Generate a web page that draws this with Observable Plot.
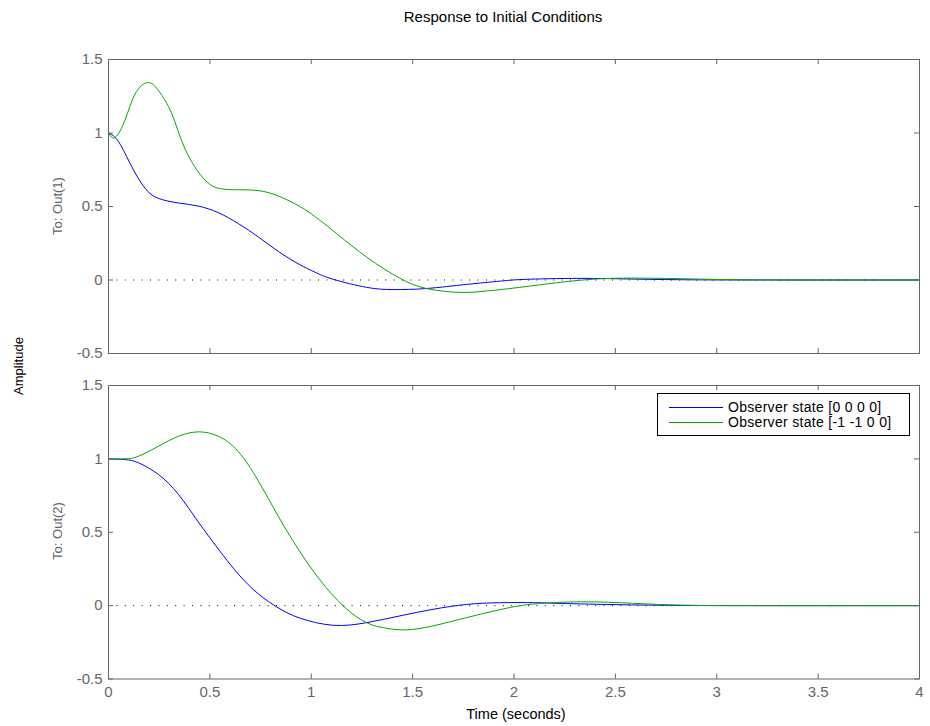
<!DOCTYPE html>
<html><head><meta charset="utf-8">
<script src="https://cdn.jsdelivr.net/npm/d3@7"></script>
<script src="https://cdn.jsdelivr.net/npm/@observablehq/plot@0.6"></script>
<style>
body{margin:0;background:#fff;font-family:"Liberation Sans",Arial,Helvetica,sans-serif;}
#wrap{position:relative;width:930px;height:726px;overflow:hidden;background:#fff}
.lbl{position:absolute;white-space:nowrap;font-size:13px;line-height:1;color:#000}
.rot{transform:translate(-50%,-50%) rotate(-90deg)}
.ctr{transform:translate(-50%,-50%)}
#legend{position:absolute;left:657px;top:393px;width:253px;height:43px;box-sizing:border-box;border:1px solid #000;background:#fff}
#legend .row{position:absolute;left:0;height:14px;width:100%}
#legend svg{position:absolute;left:11px;top:0}
#legend span{position:absolute;left:70px;top:0;font-size:14px;line-height:14px;letter-spacing:0.3px;white-space:nowrap}
</style></head><body><div id="wrap"></div>
<script>
// ---- data ----
const xTicks = [0, 0.5, 1, 1.5, 2, 2.5, 3, 3.5, 4];
const yTicks = [-0.5, 0, 0.5, 1, 1.5];
const seriesNames = ["Observer state [0 0 0 0]", "Observer state [-1 -1 0 0]"];
const seriesColors = ["#0000ff", "#00aa00"];
const panelLabels = ["To: Out(1)", "To: Out(2)"];

const out1Blue = [[0,1.0],[0.05,0.94],[0.115,0.77],[0.18,0.625],[0.245,0.556],[0.345,0.524],[0.443,0.503],[0.542,0.458],[0.64,0.384],[0.739,0.293],[0.837,0.195],[0.94,0.107],[1.02,0.052],[1.108,0.005],[1.273,-0.05],[1.404,-0.065],[1.568,-0.058],[1.765,-0.03],[1.93,-0.008],[2.05,0.004],[2.32,0.011],[2.6,0.006],[2.9,0.001],[3.3,0],[4,0]];
const out1Green = [[0,1.0],[0.033,0.97],[0.082,1.09],[0.131,1.265],[0.192,1.343],[0.246,1.29],[0.312,1.132],[0.378,0.89],[0.476,0.68],[0.558,0.62],[0.64,0.614],[0.739,0.608],[0.837,0.572],[0.944,0.5],[1.018,0.432],[1.108,0.335],[1.273,0.156],[1.437,0.012],[1.568,-0.058],[1.733,-0.084],[1.864,-0.075],[2.028,-0.05],[2.324,-0.002],[2.57,0.013],[2.816,0.009],[3.1,0.002],[3.5,0],[4,0]];
const out2Blue = [[0,1.0],[0.082,0.995],[0.148,0.973],[0.246,0.894],[0.345,0.758],[0.443,0.57],[0.542,0.385],[0.64,0.215],[0.739,0.08],[0.837,-0.015],[0.944,-0.085],[1.108,-0.134],[1.273,-0.116],[1.437,-0.07],[1.601,-0.025],[1.765,0.008],[1.93,0.02],[2.1,0.02],[2.26,0.014],[2.58,0.005],[2.9,0.001],[3.3,0],[4,0]];
const out2Green = [[0,1.0],[0.082,1.0],[0.148,1.018],[0.246,1.086],[0.345,1.154],[0.443,1.184],[0.542,1.154],[0.64,1.05],[0.739,0.85],[0.837,0.61],[0.936,0.385],[1.043,0.175],[1.158,-0.002],[1.273,-0.116],[1.371,-0.154],[1.47,-0.165],[1.601,-0.138],[1.765,-0.082],[1.93,-0.028],[2.09,0.01],[2.34,0.026],[2.585,0.016],[2.83,0.003],[3.2,0],[4,0]];

// ---- drawing ----
const axisColor = "#666";
const textColor = "#666";
const wrap = document.getElementById("wrap");

function panel(series, {top, height, mt, mb, showX}) {
  const W = 930, ML = 108, MR = 11;
  const ph = height - mt - mb, pw = W - ML - MR;
  const marks = [
    Plot.ruleY([0], {stroke: "#000", strokeWidth: 1, strokeDasharray: "1,7.4"}),
    ...series.map((s, i) => Plot.line(s, {x: d => d[0], y: d => d[1], stroke: seriesColors[i], strokeWidth: 1, curve: "natural"})),
    Plot.tickX(xTicks, {x: d => d, stroke: axisColor, insetTop: ph - 5}),
    Plot.tickX(xTicks, {x: d => d, stroke: axisColor, insetBottom: ph - 5}),
    Plot.tickY(yTicks, {y: d => d, stroke: axisColor, insetRight: pw - 5}),
    Plot.tickY(yTicks, {y: d => d, stroke: axisColor, insetLeft: pw - 5}),
    Plot.frame({stroke: axisColor, strokeWidth: 1}),
    Plot.axisY(yTicks, {tickSize: 0, tickPadding: 6, tickFormat: d => String(d), fill: textColor, fontSize: 15, label: null})
  ];
  if (showX) marks.push(Plot.axisX(xTicks, {tickSize: 0, tickPadding: 7, tickFormat: d => String(d), fill: textColor, fontSize: 15, label: null}));
  const chart = Plot.plot({
    width: W, height, marginLeft: ML, marginRight: MR, marginTop: mt, marginBottom: mb,
    x: {domain: [0, 4], axis: showX ? undefined : null},
    y: {domain: [-0.5, 1.5]},
    style: {fontFamily: "'Liberation Sans', Arial, sans-serif", fontSize: "15px", background: "transparent", overflow: "visible"},
    marks
  });
  chart.style.position = "absolute";
  chart.style.left = "0px";
  chart.style.top = top + "px";
  wrap.appendChild(chart);
}

panel([out1Blue, out1Green], {top: 0, height: 370, mt: 59, mb: 17, showX: false});
panel([out2Blue, out2Green], {top: 370, height: 356, mt: 15, mb: 47.5, showX: true});

function label(text, x, y, cls, color, size) {
  const d = document.createElement("div");
  d.className = "lbl " + cls;
  d.textContent = text;
  d.style.left = x + "px";
  d.style.top = y + "px";
  if (color) d.style.color = color;
  if (size) d.style.fontSize = size + "px";
  wrap.appendChild(d);
}
label("Response to Initial Conditions", 503, 16, "ctr", null, 15);
label("Time (seconds)", 516, 714, "ctr", null, 14.5);
label("Amplitude", 18, 366, "rot");
label(panelLabels[0], 57, 206, "rot", textColor);
label(panelLabels[1], 57, 531, "rot", textColor);

// legend
const lg = document.createElement("div");
lg.id = "legend";
seriesNames.forEach((name, i) => {
  const row = document.createElement("div");
  row.className = "row";
  row.style.top = (6 + i * 15) + "px";
  row.innerHTML = `<svg width="55" height="14"><line x1="0" x2="54" y1="7.5" y2="7.5" stroke="${seriesColors[i]}" stroke-width="1"/></svg><span>${name}</span>`;
  lg.appendChild(row);
});
wrap.appendChild(lg);
</script>
</body></html>
